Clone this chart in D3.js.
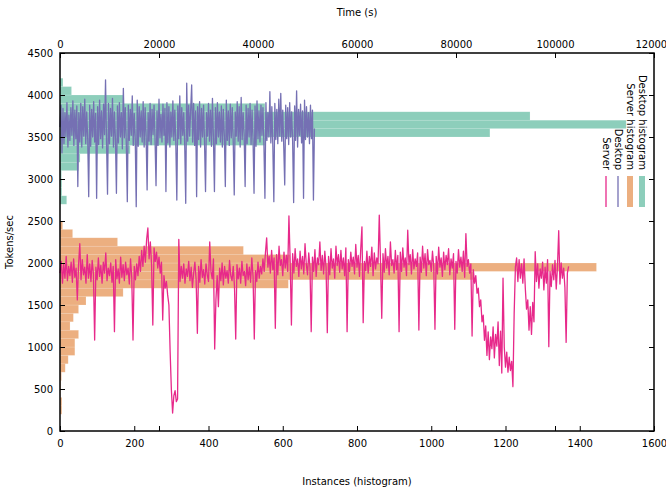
<!DOCTYPE html>
<html><head><meta charset="utf-8">
<script src="https://cdn.jsdelivr.net/npm/d3@7"></script>
<style>body{margin:0;background:#fff} svg text{font-family:"DejaVu Sans",sans-serif}</style>
</head><body><svg id="c" width="666" height="500"></svg>
<script>
// ---- data ----
const desktopStep = 200; // seconds between desktop samples
const desktopValues = [
3620,3880,3310,3840,3420,3790,3500,3910,3380,3760,
3460,3850,3520,3930,3400,3820,3480,3870,2910,3790,
3440,3900,3380,3860,3510,3950,3420,3800,3470,2790,
3880,3390,3830,3500,3920,3440,3780,2770,3860,3410,
3940,3480,3810,3370,3890,3530,4180,3450,2820,3900,
3420,3840,3510,3960,3380,3800,3470,2830,3870,3430,
3910,3500,3790,3360,4080,3490,3850,3410,2730,3880,
3460,3830,3520,3990,3400,3780,3480,2670,3940,3390,
3860,3500,3810,3440,3920,3380,3850,3510,2870,3790,
3450,3900,3410,3830,3530,3880,3470,2920,3810,3400,
3950,3490,3770,3440,3890,3520,3840,2850,3910,3430,
3860,3380,3800,3500,3930,3460,3820,3410,2750,3870,
3480,3990,3420,3850,3520,3790,3390,2710,4140,3450,
3880,3510,3830,4120,3440,3900,3400,3810,2790,3860,
3470,3920,3380,3840,3500,3880,3430,2850,3790,3510,
3900,3450,3820,3390,3960,3480,2850,3850,3420,3910,
3500,3800,3440,3870,3380,3830,3520,2910,3940,3460,
3810,3400,3890,3490,3850,3430,2810,3800,3510,3920,
3450,3860,3380,3970,3470,3790,3530,2910,3880,3420,
3840,3500,3900,3410,3820,3460,2830,3870,3390,3930,
3480,3810,3440,3880,3520,3850,3400,2770,3910,3460,
3790,3500,4040,3430,3860,3380,2730,3900,3470,3830,
3420,3950,3510,4020,3450,3820,3390,2930,3880,3480,
3850,3410,3910,3500,3800,3440,2720,3870,3460,4050,
3380,3830,3520,3890,3430,3810,2770,3940,3470,3860,
3500,3790,3420,3880,3480,3820,2750,3600
];
const serverStep = 250; // seconds between server samples
const serverValues = [
1880,2020,1760,1990,1820,2080,1790,1960,1850,2010,
1770,2050,1830,1940,1560,1980,2230,1800,2040,1860,
1950,1760,2100,1820,1990,1780,2030,1870,1083,1950,
1800,2060,1840,1970,1760,2010,1880,2120,1790,1940,
1850,2000,1770,1960,1182,2040,1810,1930,1760,2070,
1830,1980,1790,2010,1860,1940,1750,2050,1820,1083,
1960,1800,
1990,1850,2080,1900,2150,1960,2200,2010,
2280,2417,2050,2250,1980,1262,2180,2020,2130,1940,
2070,1880,2010,1321,1850,1700,1780,1620,1500,
944,490,214,420,480,350,380,2282,
1780,1960,1820,
1990,1760,1930,1840,2020,1790,1950,1710,1880,2010,
1800,1163,1960,1770,2040,1830,1920,1750,1990,1860,
1780,2250,1900,1810,2050,976,1560,1850,1480,1940,
1790,2000,1740,1960,1820,1910,1760,2030,1850,1790,
1960,1720,1095,1980,1810,1940,1760,2020,1850,1900,
1730,1990,1800,1950,1770,2060,1840,1095,1910,1780,
2010,1820,1960,1870,2050,
1900,2120,2300,1950,2080,
1880,2150,1920,2060,1222,2100,1860,2200,1970,2040,
1850,2130,1940,2090,1900,2560,2020,1262,2110,1880,
2170,1960,2050,1840,2140,1930,2080,1870,2230,1990,
1860,2120,1950,1183,2070,1900,2160,1840,2060,1980,
2250,1910,2090,1870,2140,1950,1170,2080,1860,2170,
1940,2050,1820,2200,1970,2100,1890,2150,1930,2060,
1850,2180,1182,2040,1900,2130,1960,2070,1870,2220,
1950,2090,1840,2160,2430,1290,2020,1910,2140,1880,
2080,1960,2190,1850,2120,1930,2060,1990,2571,2010,
1341,2110,1890,2170,1940,2080,1860,2250,1970,2040,
1880,2150,1920,2090,1182,2130,1900,2180,1950,2060,
1850,2390,1980,2100,1870,2160,1930,2050,1960,2120,
1202,2070,1890,2200,1940,2110,1850,2160,1980,2030,
1900,2140,1960,1210,2080,1870,2190,1950,2060,1840,
2130,1920,2090,1980,2170,1860,2050,1940,2110,1210,
2020,1880,2160,1950,2070,1900,2140,1830,2350,1960,
2040,1880,1990,1130,
1920,1760,1850,1640,1700,1480,
1560,1300,1380,1080,1250,900,1180,850,1120,980,
1240,870,1150,1010,1300,780,1190,690,1820,1000,
760,940,700,880,720,830,528,1400,1950,2060,
1780,2040,1820,1990,1760,2050,1700,1450,1560,1200,
1480,1150,1530,1300,2135,1780,1990,1700,1930,1820,
2010,1680,1950,1760,2040,1004,1900,1720,1980,1800,
2030,1690,1960,2385,1750,2000,1820,1940,1710,1055,
1880,1960
];
const binWidth = 100;
const desktopHistBins   = [2700,2800,2900,3000,3100,3200,3300,3400,3500,3600,3700,3800,3900,4000,4100];
const desktopHistCounts = [18,  5,   5,   4,   50,  54,  189, 552, 1158,1525,1266,552, 170, 31,  8];
const serverHistBins   = [200,300,400,500,600,700,800,900,1000,1100,1200,1300,1400,1500,1600,1700,1800,1900,2000,2100,2200,2300,2400];
const serverHistCounts = [5,  5,  1,  2,  4,  14, 22, 40, 40,  50,  27,  36,  50,  70,  170, 615, 1113,1445,620, 494, 155, 34,  7];
const yTicks  = [0,500,1000,1500,2000,2500,3000,3500,4000,4500];
const xTicks  = [0,200,400,600,800,1000,1200,1400,1600];
const x2Ticks = [0,20000,40000,60000,80000,100000,120000];
const legendLabels = ["Desktop histogram","Server histogram","Desktop","Server"];
const colors = {desktop:"#7570b3", server:"#e7298a", desktopHist:"#1b9e77", serverHist:"#d95f02"};

// ---- layout ----
const L=60, R=654, T=53, B=431;
const svg = d3.select("#c");
const y  = d3.scaleLinear().domain([0,4500]).range([B,T]);
const x  = d3.scaleLinear().domain([0,1600]).range([L,R]);
const x2 = d3.scaleLinear().domain([0,120000]).range([L,R]);

function hist(bins, counts, color){
  svg.append("g").selectAll("rect").data(bins).join("rect")
    .attr("x", x(0))
    .attr("y", d=>y(d+binWidth))
    .attr("width", (d,i)=>x(counts[i])-x(0))
    .attr("height", d=>y(d)-y(d+binWidth))
    .attr("fill", color).attr("fill-opacity",0.5)
    .attr("stroke","#fff").attr("stroke-opacity",0.25).attr("stroke-width",0.6);
}
hist(desktopHistBins, desktopHistCounts, colors.desktopHist);
hist(serverHistBins, serverHistCounts, colors.serverHist);

function series(vals, step, color){
  const line = d3.line().x((d,i)=>x2(i*step)).y(d=>y(d));
  svg.append("path").datum(vals).attr("d", line)
    .attr("fill","none").attr("stroke",color).attr("stroke-width",1.3)
    .attr("stroke-linejoin","round");
}
series(desktopValues, desktopStep, colors.desktop);
series(serverValues, serverStep, colors.server);

// ---- axes ----
function style(g){
  g.select(".domain").remove();
  g.selectAll("line").attr("stroke","#000").attr("stroke-width",1);
  g.selectAll("text").attr("fill","#000").attr("font-family","DejaVu Sans").attr("font-size",10);
}
svg.append("g").attr("transform",`translate(${L},0)`)
  .call(d3.axisLeft(y).tickValues(yTicks).tickFormat(d3.format("d")).tickSizeInner(-5).tickSizeOuter(0).tickPadding(7)).call(style);
svg.append("g").attr("transform",`translate(${R},0)`)
  .call(d3.axisRight(y).tickValues(yTicks).tickFormat("").tickSizeInner(-5).tickSizeOuter(0)).call(style);
svg.append("g").attr("transform",`translate(0,${B})`)
  .call(d3.axisBottom(x).tickValues(xTicks).tickFormat(d3.format("d")).tickSizeInner(-5).tickSizeOuter(0).tickPadding(9)).call(style);
svg.append("g").attr("transform",`translate(0,${B})`)
  .call(d3.axisBottom(x2).tickValues(x2Ticks).tickFormat("").tickSizeInner(-5).tickSizeOuter(0)).call(style);
svg.append("g").attr("transform",`translate(0,${T})`)
  .call(d3.axisTop(x2).tickValues(x2Ticks).tickFormat(d3.format("d")).tickSizeInner(-5).tickSizeOuter(0).tickPadding(5)).call(style);

svg.append("rect").attr("x",L).attr("y",T).attr("width",R-L).attr("height",B-T)
  .attr("fill","none").attr("stroke","#000").attr("stroke-width",1.5);

// ---- titles ----
svg.append("text").attr("x",(L+R)/2).attr("y",16).attr("text-anchor","middle").attr("font-size",10).text("Time (s)");
svg.append("text").attr("x",(L+R)/2).attr("y",485).attr("text-anchor","middle").attr("font-size",10).text("Instances (histogram)");
svg.append("text").attr("transform",`translate(13,${(T+B)/2}) rotate(-90)`).attr("text-anchor","middle").attr("font-size",10).text("Tokens/sec");

// ---- legend (rotated) ----
const legendX = [642, 630, 618, 606];
const legendColors = [colors.desktopHist, colors.serverHist, colors.desktop, colors.server];
legendLabels.forEach((lab,i)=>{
  const lx = legendX[i];
  svg.append("text").attr("transform",`translate(${lx},170) rotate(90)`)
    .attr("text-anchor","end").attr("dominant-baseline","central").attr("font-size",10).text(lab);
  if(i<2){
    svg.append("rect").attr("x",lx-3).attr("y",176).attr("width",6).attr("height",31)
      .attr("fill",legendColors[i]).attr("fill-opacity",0.5);
  } else {
    svg.append("line").attr("x1",lx).attr("x2",lx).attr("y1",176).attr("y2",207)
      .attr("stroke",legendColors[i]).attr("stroke-width",1.3);
  }
});
</script></body></html>
